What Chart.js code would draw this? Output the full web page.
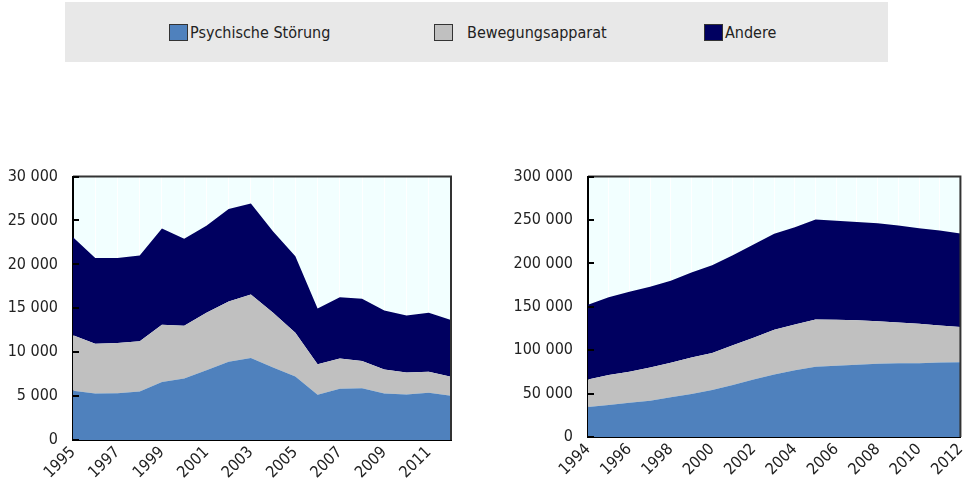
<!DOCTYPE html>
<html>
<head>
<meta charset="utf-8">
<script src="https://cdn.jsdelivr.net/npm/chart.js@4.4.1/dist/chart.umd.min.js"></script>
<style>
    html, body { margin: 0; padding: 0; background: #ffffff; }
    body { width: 965px; height: 481px; position: relative; overflow: hidden;
           font-family: "Liberation Sans Narrow", "Arial Narrow", "DejaVu Sans Condensed", sans-serif; }
    #legend { position: absolute; left: 65px; top: 2px; width: 823px; height: 60px; background: #e8e8e8; }
    .item { position: absolute; top: 21px; display: flex; align-items: center; font-size: 16px; color: #222; }
    .swatch { width: 19px; height: 17px; border: 1px solid #333; box-sizing: border-box; }
    canvas { position: absolute; top: 152px; }
    #left { left: 0; }
    #right { left: 480px; }
</style>
</head>
<body>
<div id="legend"></div>
<canvas id="left" width="470" height="329"></canvas>
<canvas id="right" width="497" height="329"></canvas>
<script>
// Stacked area charts - sickness/disability claims by cause

const SERIES_NAMES = ['Psychische Störung', 'Bewegungsapparat', 'Andere'];

// left panel
const YEARS_LEFT = ['1995', '1996', '1997', '1998', '1999', '2000', '2001', '2002', '2003',
    '2004', '2005', '2006', '2007', '2008', '2009', '2010', '2011', '2012'];
const PSYCH_LEFT = [5600, 5300, 5330, 5520, 6620, 7000, 7950, 8900, 9350,
    8250, 7230, 5150, 5830, 5900, 5300, 5180, 5370, 5030];
const MUSCLE_LEFT = [6320, 5670, 5720, 5720, 6510, 6000, 6550, 6880, 7220,
    6250, 4990, 3480, 3440, 3100, 2720, 2500, 2390, 2160];
const OTHER_LEFT = [11160, 9760, 9680, 9760, 10970, 9930, 9900, 10520, 10370,
    9260, 8700, 6350, 7000, 7080, 6740, 6510, 6730, 6470];
const Y_TICKS_LEFT = [0, 5000, 10000, 15000, 20000, 25000, 30000];

// right panel
const YEARS_RIGHT = ['1994', '1995', '1996', '1997', '1998', '1999', '2000', '2001', '2002', '2003',
    '2004', '2005', '2006', '2007', '2008', '2009', '2010', '2011', '2012'];
const PSYCH_RIGHT = [34700, 37000, 39600, 41900, 45700, 49600, 54100, 59900, 66300, 72000,
    77000, 80800, 82000, 83100, 84300, 85000, 85000, 85800, 86200];
const MUSCLE_RIGHT = [31600, 34300, 35500, 38100, 39700, 41900, 42700, 45700, 48100, 51500,
    52600, 54500, 53000, 51500, 49100, 46900, 45400, 42700, 40400];
const OTHER_RIGHT = [86200, 89600, 92300, 93000, 94600, 98000, 101100, 103700, 107500, 110600,
    112100, 115200, 114000, 113200, 112900, 111700, 110200, 109400, 107900];
const Y_TICKS_RIGHT = [0, 50000, 100000, 150000, 200000, 250000, 300000];

const COLORS = ['#4f81bd', '#c0c0c0', '#000060'];
const LEGEND_X = [104, 369, 639];
const LEGEND_GAP = [2, 14, 2];

const FONT_FAMILY = '"Liberation Sans Narrow", "Arial Narrow", "DejaVu Sans Condensed", sans-serif';
Chart.defaults.font.family = FONT_FAMILY;
Chart.defaults.color = '#222222';

/**
 * HTML legend above both panels
 */
function buildLegend() {
    const box = document.getElementById('legend');
    SERIES_NAMES.forEach((name, i) => {
        const item = document.createElement('div');
        item.className = 'item';
        item.style.left = LEGEND_X[i] + 'px';
        const sw = document.createElement('span');
        sw.className = 'swatch';
        sw.style.background = COLORS[i];
        sw.style.marginRight = LEGEND_GAP[i] + 'px';
        const txt = document.createElement('span');
        txt.textContent = name;
        item.appendChild(sw);
        item.appendChild(txt);
        box.appendChild(item);
    });
}

// light plot background, frame and inward y ticks
const plotFrame = {
    id: 'plotFrame',
    beforeDraw(chart) {
        const a = chart.chartArea;
        const ctx = chart.ctx;
        ctx.save();
        ctx.fillStyle = '#f2ffff';
        ctx.fillRect(a.left, a.top, a.right - a.left, a.bottom - a.top);
        ctx.restore();
    },
    afterDraw(chart) {
        const a = chart.chartArea;
        const ctx = chart.ctx;
        const y = chart.scales.y;
        ctx.save();
        ctx.strokeStyle = '#333333';
        ctx.lineWidth = 2;
        ctx.beginPath();
        ctx.moveTo(a.left, a.top);
        ctx.lineTo(a.right, a.top);
        ctx.lineTo(a.right, a.bottom);
        ctx.stroke();
        ctx.strokeStyle = '#000000';
        y.ticks.forEach(t => {
            const py = Math.round(y.getPixelForValue(t.value));
            ctx.beginPath();
            ctx.moveTo(a.left, py);
            ctx.lineTo(a.left + 6, py);
            ctx.stroke();
        });
        ctx.restore();
    }
};

function formatThousands(v) {
    return String(v).replace(/\B(?=(\d{3})+(?!\d))/g, ' ');
}

function createAreaChart(id, labels, series, yTicks, yWidth, xHeight, padRight) {
    const ctx = document.getElementById(id).getContext('2d');
    const yMax = yTicks[yTicks.length - 1];
    return new Chart(ctx, {
        type: 'line',
        data: {
            labels: labels,
            datasets: series.map((values, i) => ({
                label: SERIES_NAMES[i],
                data: values,
                backgroundColor: COLORS[i],
                borderColor: COLORS[i],
                borderWidth: 0,
                pointRadius: 0,
                tension: 0,
                fill: i === 0 ? 'origin' : '-1'
            }))
        },
        options: {
            responsive: false,
            animation: false,
            layout: { padding: { top: 10, right: padRight, left: 0, bottom: 0 } },
            plugins: {
                legend: { display: false },
                tooltip: { enabled: false }
            },
            scales: {
                x: {
                    offset: false,
                    grid: { color: 'rgba(255, 255, 255, 0.95)', lineWidth: 1, drawTicks: false },
                    border: { color: '#000000', width: 2 },
                    ticks: {
                        autoSkip: false,
                        maxRotation: 45,
                        minRotation: 45,
                        padding: 3,
                        font: { size: 16 },
                        callback: (v, idx) => idx % 2 === 0 ? labels[idx] : ''
                    },
                    afterFit: (scale) => { scale.height = xHeight; }
                },
                y: {
                    stacked: true,
                    min: 0,
                    max: yMax,
                    afterBuildTicks: (scale) => { scale.ticks = yTicks.map(v => ({ value: v })); },
                    grid: { drawOnChartArea: false, drawTicks: false },
                    border: { color: '#000000', width: 2 },
                    ticks: {
                        padding: 15,
                        font: { size: 16 },
                        callback: (v) => formatThousands(v)
                    },
                    afterFit: (scale) => { scale.width = yWidth; }
                }
            }
        },
        plugins: [plotFrame]
    });
}

buildLegend();
createAreaChart('left', YEARS_LEFT, [PSYCH_LEFT, MUSCLE_LEFT, OTHER_LEFT], Y_TICKS_LEFT, 73, 41, 19);
createAreaChart('right', YEARS_RIGHT, [PSYCH_RIGHT, MUSCLE_RIGHT, OTHER_RIGHT], Y_TICKS_RIGHT, 108, 44, 5);
</script>
</body>
</html>
